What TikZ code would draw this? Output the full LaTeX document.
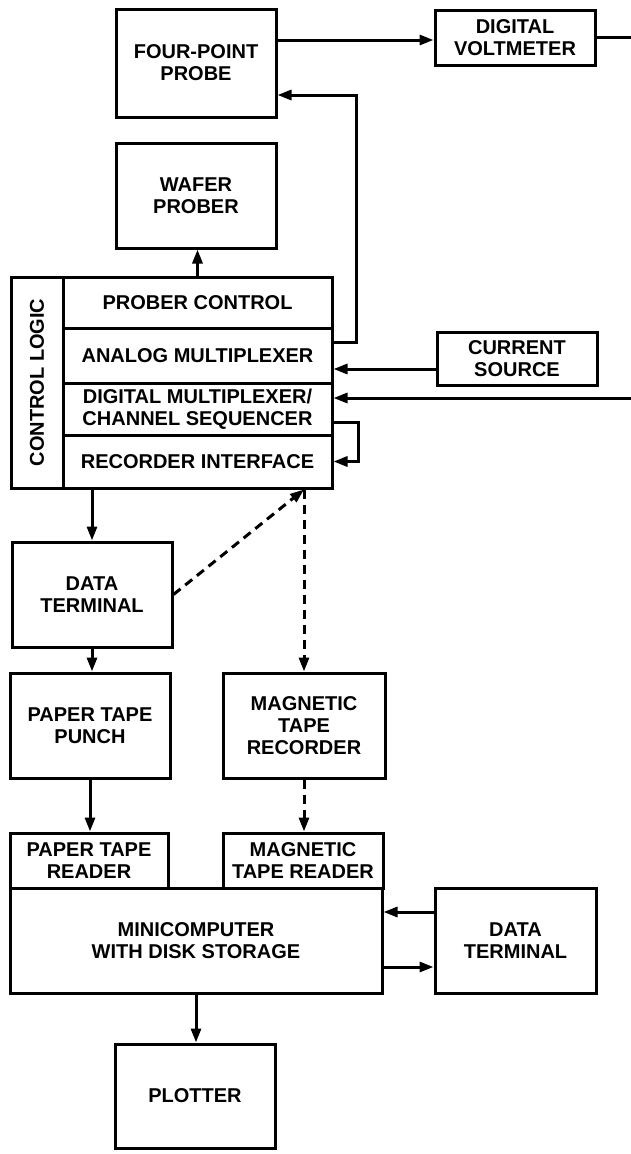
\documentclass[tikz,border=0pt]{standalone}
\usepackage{fontspec}
\setmainfont{Liberation Sans}
\usetikzlibrary{arrows.meta}
\tikzset{
    blk/.style={draw,line width=3pt,inner sep=0pt,align=center,
        font=\bfseries\fontsize{20}{22}\selectfont,minimum width=160pt,minimum height=105pt},
    row/.style={blk,minimum width=269pt},
    link/.style={draw,line width=3pt,-{Triangle[length=14pt,width=10pt]}},
    dashlink/.style={link,dash pattern=on 9pt off 6pt}
}
\begin{document}
\begin{tikzpicture}[x=1pt,y=-1pt]
    \useasboundingbox (0,0) rectangle (631,1154);
    % measuring head
    \node[blk,minimum height=108pt] (probe) at (196,63) {FOUR-POINT\\PROBE};
    \node[blk,minimum height=55pt] (dvm) at (515,37.5) {DIGITAL\\VOLTMETER};
    \node[blk] (wafer) at (196,195.5) {WAFER\\PROBER};
    \node[blk,minimum height=53pt] (cs) at (517,358.5) {CURRENT\\SOURCE};
    % control logic block
    \node[blk,rotate=90,minimum width=211pt,minimum height=52pt] (logic) at (37,382.5) {CONTROL LOGIC};
    \node[row,minimum height=51pt] (pc) at (197.5,302.5) {PROBER CONTROL};
    \node[row,minimum height=55pt] (am) at (197.5,355.5) {ANALOG MULTIPLEXER};
    \node[row,minimum height=52pt] (dm) at (197.5,409) {DIGITAL MULTIPLEXER/\\CHANNEL SEQUENCER};
    \node[row,minimum height=53pt] (ri) at (197.5,461.5) {RECORDER INTERFACE};
    % recording
    \node[blk] (dtone) at (92,594.5) {DATA\\TERMINAL};
    \node[blk] (ptp) at (90,725.5) {PAPER TAPE\\PUNCH};
    \node[blk,minimum width=162pt] (mtr) at (304,725.5) {MAGNETIC\\TAPE\\RECORDER};
    \node[blk,minimum width=158pt,minimum height=55pt] (ptr) at (89,860.5) {PAPER TAPE\\READER};
    \node[blk,minimum height=55pt] (mtrd) at (303,860.5) {MAGNETIC\\TAPE READER};
    % processing
    \node[blk,minimum width=372pt] (mini) at (196,940.5) {MINICOMPUTER\\WITH DISK STORAGE};
    \node[blk,minimum width=161pt] (dttwo) at (515.5,940.5) {DATA\\TERMINAL};
    \node[blk,minimum height=104pt] (plot) at (195,1096) {PLOTTER};
    \coordinate (dvmout) at (631,37.5);
    \coordinate (dmin) at (631,398);
    \coordinate (rec) at (mtr.north |- ri.south);

    \draw[link] (probe.east |- 0,40) -- (dvm.west |- 0,40);
    \draw[line width=3pt] (dvm.east) -- (dvmout);
    \draw[link] ([yshift=13.5pt]am.east) -- ++(23,0) |- ([yshift=-32pt]probe.east);
    \draw[link] (pc.north) -- (pc.north |- wafer.south);
    \draw[link] ([yshift=-10.5pt]cs.west) -- ([yshift=-10.5pt]cs.west -| am.east);
    \draw[link] (dmin) -- (dmin -| dm.east);
    \draw[link] ([yshift=-13pt]dm.east) -- ++(25,0) |- (ri.east);
    \draw[link] (dtone.north |- ri.south) -- (dtone.north);
    \draw[dashlink] (dtone.east) -- (rec);
    \draw[dashlink] (rec) -- (mtr.north);
    \draw[link] (dtone.south) -- (dtone.south |- ptp.north);
    \draw[link] (ptp.south) -- (ptp.south |- ptr.north);
    \draw[dashlink] (mtr.south) -- (mtr.south |- mtrd.north);
    \draw[link] ([yshift=28.5pt]dttwo.west) -- ([yshift=28.5pt]dttwo.west -| mini.east);
    \draw[link] ([yshift=-26.5pt]mini.east) -- ([yshift=-26.5pt]mini.east -| dttwo.west);
    \draw[link] (mini.south) -- (mini.south |- plot.north);
\end{tikzpicture}
\end{document}
